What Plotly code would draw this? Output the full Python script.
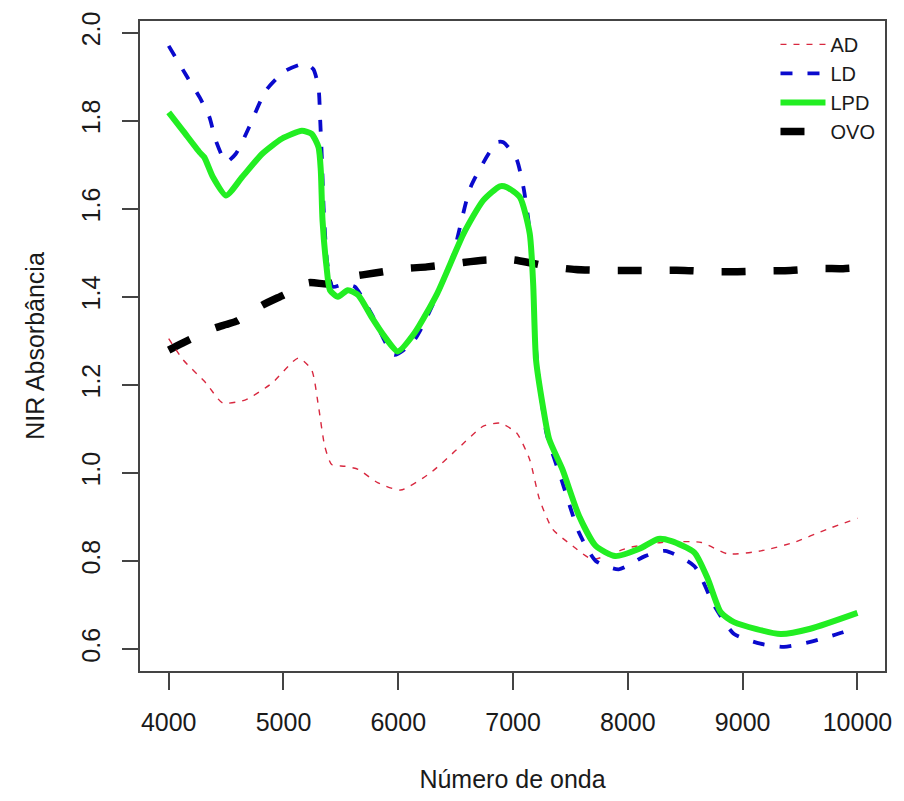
import plotly.graph_objects as go

# NIR absorbance spectra (wavenumber in cm-1 vs absorbance)
ad_wn = [4000, 4125, 4325, 4470, 4670, 4900, 5130, 5245, 5305, 5360, 5420, 5535,
         5650, 5820, 6020, 6280, 6510, 6740, 6885, 7030, 7145, 7230, 7345, 7520,
         7690, 8005, 8295, 8640, 8870, 9160, 9445, 9735, 10000]
ad_abs = [1.305, 1.257, 1.204, 1.159, 1.166, 1.204, 1.261, 1.234, 1.151, 1.060, 1.019, 1.015,
          1.008, 0.978, 0.961, 1.000, 1.053, 1.106, 1.113, 1.091, 1.030, 0.940, 0.872, 0.834,
          0.804, 0.830, 0.842, 0.842, 0.816, 0.823, 0.842, 0.872, 0.897]

ld_wn = [4000, 4155, 4270, 4355, 4410, 4500, 4585, 4700, 4845, 5015, 5190, 5260,
         5305, 5320, 5335, 5350, 5380, 5426, 5520, 5620, 5765, 5965, 6140, 6455,
         6630, 6860, 6915, 7030, 7090, 7130, 7160, 7205, 7290, 7430, 7575, 7720,
         7920, 8150, 8325, 8580, 8755, 8925, 9155, 9360, 9590, 9875, 10000]
ld_abs = [1.970, 1.902, 1.853, 1.808, 1.755, 1.706, 1.725, 1.785, 1.868, 1.913, 1.930, 1.917,
          1.875, 1.800, 1.710, 1.600, 1.480, 1.423, 1.428, 1.423, 1.362, 1.268, 1.302, 1.476,
          1.649, 1.751, 1.751, 1.713, 1.649, 1.581, 1.506, 1.265, 1.091, 0.978, 0.864, 0.800,
          0.781, 0.811, 0.823, 0.788, 0.697, 0.634, 0.612, 0.605, 0.616, 0.638, 0.650]

lpd_wn = [4000, 4125, 4270, 4310, 4385, 4500, 4640, 4815, 4985, 5160, 5245, 5305,
          5325, 5340, 5375, 5405, 5475, 5560, 5650, 5765, 5880, 5995, 6140, 6340,
          6570, 6740, 6885, 6945, 7060, 7145, 7175, 7200, 7260, 7315, 7430, 7575,
          7720, 7890, 8095, 8265, 8380, 8580, 8695, 8810, 8925, 9330, 9590, 10000]
lpd_abs = [1.819, 1.777, 1.728, 1.717, 1.672, 1.630, 1.672, 1.725, 1.759, 1.777, 1.770, 1.740,
           1.687, 1.574, 1.468, 1.415, 1.400, 1.415, 1.404, 1.355, 1.310, 1.276, 1.317, 1.408,
           1.544, 1.619, 1.651, 1.649, 1.626, 1.544, 1.430, 1.257, 1.151, 1.076, 1.008, 0.902,
           0.834, 0.811, 0.827, 0.850, 0.845, 0.819, 0.760, 0.683, 0.661, 0.634, 0.646, 0.682]

ovo_wn = [4000, 4120, 4400, 4500, 4585, 4815, 5000, 5220, 5390, 5580, 5795, 6050,
          6250, 6510, 6740, 7000, 7175, 7330, 7545, 7805, 8005, 8265, 8495, 8740,
          8955, 9200, 9415, 9660, 9875, 10000]
ovo_abs = [1.279, 1.295, 1.329, 1.337, 1.344, 1.381, 1.404, 1.432, 1.429, 1.445, 1.454, 1.464,
           1.468, 1.476, 1.483, 1.484, 1.476, 1.468, 1.462, 1.460, 1.460, 1.460, 1.460, 1.457,
           1.457, 1.459, 1.460, 1.464, 1.464, 1.466]

x_ticks = [4000, 5000, 6000, 7000, 8000, 9000, 10000]
y_ticks = [0.6, 0.8, 1.0, 1.2, 1.4, 1.6, 1.8, 2.0]

FONT = "Liberation Sans, Arial, sans-serif"

fig = go.Figure()

# drawing order: OVO underneath, LPD on top; legend keeps AD, LD, LPD, OVO
fig.add_trace(go.Scatter(x=ovo_wn, y=ovo_abs, name="OVO", mode="lines", legendrank=4,
                         line=dict(color="black", width=7.5, dash="24px,28px",
                                   shape="spline", smoothing=0.6)))
fig.add_trace(go.Scatter(x=ad_wn, y=ad_abs, name="AD", mode="lines", legendrank=1,
                         line=dict(color="#D8283F", width=1.4, dash="6px,7px",
                                   shape="spline", smoothing=0.6)))
fig.add_trace(go.Scatter(x=ld_wn, y=ld_abs, name="LD", mode="lines", legendrank=2,
                         line=dict(color="#0A0ACD", width=3.8, dash="12px,15px",
                                   shape="spline", smoothing=0.6)))
fig.add_trace(go.Scatter(x=lpd_wn, y=lpd_abs, name="LPD", mode="lines", legendrank=3,
                         line=dict(color="#22EE22", width=6,
                                   shape="spline", smoothing=0.6)))

fig.update_layout(
    width=904, height=801,
    margin=dict(l=140, r=12, t=20, b=129),
    paper_bgcolor="white", plot_bgcolor="white",
    font=dict(family=FONT, color="#1a1a1a", size=25),
    showlegend=True,
    legend=dict(x=0.853, y=0.994, xanchor="left", yanchor="top",
                bgcolor="rgba(0,0,0,0)", borderwidth=0,
                font=dict(size=20, color="#1a1a1a"),
                itemwidth=45, tracegroupgap=0),
    xaxis=dict(range=[3750, 10240], tickvals=x_ticks, tickformat="d",
               showgrid=False, zeroline=False,
               showline=True, mirror=True, linecolor="#444444", linewidth=1.5,
               ticks="outside", ticklen=17, tickwidth=1.5, tickcolor="#444444",
               ticklabelstandoff=11,
               tickfont=dict(size=25),
               title=dict(text="Número de onda", font=dict(size=25), standoff=36)),
    yaxis=dict(range=[0.550, 2.0265], tickvals=y_ticks, tickformat=".1f",
               showgrid=False, zeroline=False,
               showline=True, mirror=True, linecolor="#444444", linewidth=1.5,
               ticks="outside", ticklen=16, tickwidth=1.5, tickcolor="#444444",
               tickangle=-90, ticklabelstandoff=12,
               tickfont=dict(size=25),
               title=dict(text="NIR Absorbância", font=dict(size=25), standoff=26)),
)

fig.write_html("out.html")
